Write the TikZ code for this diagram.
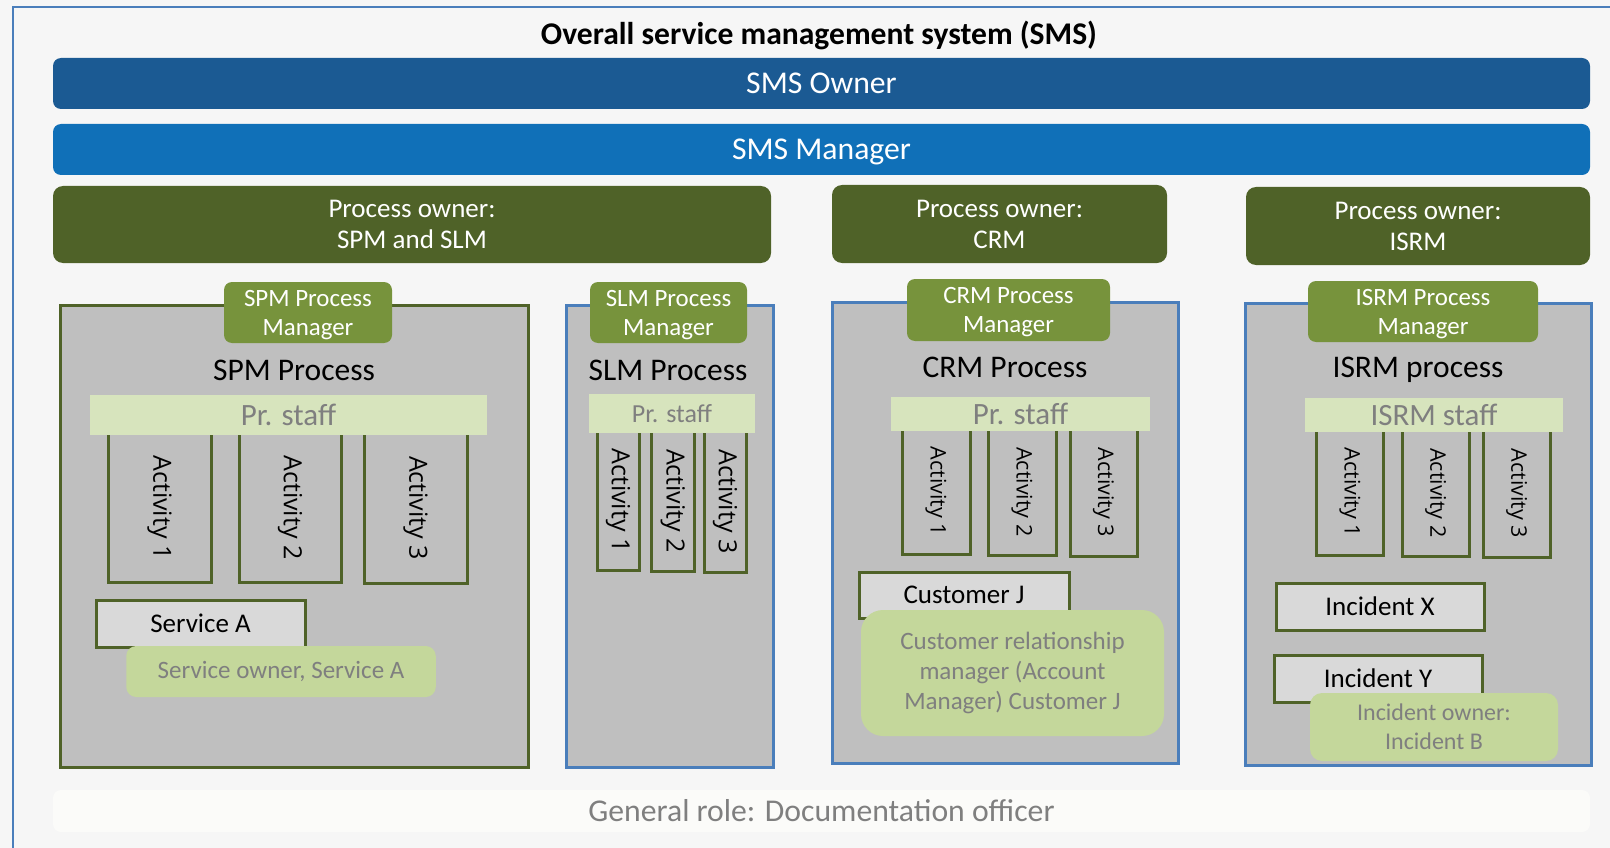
\documentclass[tikz,border=0pt]{standalone}
\usepackage{fontspec}
\setmainfont{Carlito}
\newfontfamily\actfont{Open Sans}
\definecolor{pagebg}{HTML}{F6F6F6}
\definecolor{frameblue}{HTML}{4A7EBB}
\definecolor{ownerblue}{HTML}{1B5A93}
\definecolor{managerblue}{HTML}{1070B8}
\definecolor{olivedark}{HTML}{4F6228}
\definecolor{olivelight}{HTML}{77933C}
\definecolor{procgray}{HTML}{BFBFBF}
\definecolor{staffgreen}{HTML}{D7E4BD}
\definecolor{rolegreen}{HTML}{C4D79B}
\definecolor{itemgray}{HTML}{D9D9D9}
\definecolor{textgray}{HTML}{7F7F7F}
\definecolor{generalwhite}{HTML}{FBFBF9}
\tikzset{smsbar/.style = {rounded corners=8pt, text=white, inner sep=0pt,
    text height=20pt, text depth=0pt, font=\fontsize{31.7}{37}\selectfont},
  ownerbox/.style = {fill=olivedark, rounded corners=10pt, text=white, align=center,
    inner sep=0pt, font=\fontsize{27}{31}\selectfont},
  procbox/.style = {fill=procgray, line width=3pt, inner sep=0pt},
  mgrtab/.style = {fill=olivelight, rounded corners=8pt, text=white, align=center,
    inner sep=0pt, text depth=-2pt, font=\fontsize{24.9}{29}\selectfont},
  proctitle/.style = {anchor=base, font=\fontsize{31.5}{36}\selectfont},
  staffbar/.style = {fill=staffgreen, text=textgray, inner sep=0pt,
    font=\fontsize{31}{36}\selectfont},
  actbox/.style = {rotate=-90, draw=olivedark, fill=procgray, line width=3pt,
    inner sep=0pt, font=\actfont\fontsize{25}{29}\selectfont},
  itembox/.style = {draw=olivedark, fill=itemgray, line width=3pt, inner sep=0pt,
    font=\fontsize{27}{32}\selectfont},
  rolebox/.style = {fill=rolegreen, text=textgray, rounded corners=10pt, align=center,
    inner sep=0pt, font=\fontsize{25}{29.7}\selectfont}}

\begin{document}
\begin{tikzpicture}[x=1pt,y=-1pt]
  \useasboundingbox (0,0) rectangle (1610,848);
  \fill[pagebg] (0,0) rectangle (1610,848);
  \draw[frameblue, line width=2.5pt] (13,848) -- (13,7) -- (1610,7);
  \node[anchor=base, font=\bfseries\fontsize{31.6}{37}\selectfont] (title) at (819,45)
    {Overall service management system (SMS)};
  % top bars
  \node[smsbar, fill=ownerblue, minimum width=1537pt, minimum height=51pt] (smsowner)
    at (821.5,83.5) {SMS Owner};
  \node[smsbar, fill=managerblue, minimum width=1537pt, minimum height=51pt] (smsmanager)
    at (821.5,149.5) {SMS Manager};
  % process owners
  \node[ownerbox, minimum width=718pt, minimum height=77pt] (spmslmowner)
    at (412,224.5) {Process owner:\\SPM and SLM};
  \node[ownerbox, minimum width=335pt, minimum height=78pt] (crmowner)
    at (999.5,224) {Process owner:\\CRM};
  \node[ownerbox, minimum width=344pt, minimum height=78pt] (isrmowner)
    at (1418,226) {Process owner:\\ISRM};
  % process boxes
  \node[procbox, draw=olivedark, minimum width=468pt, minimum height=462pt] (spmproc)
    at (294,536) {};
  \node[procbox, draw=frameblue, minimum width=207pt, minimum height=462pt] (slmproc)
    at (669.5,536) {};
  \node[procbox, draw=frameblue, minimum width=346pt, minimum height=461pt] (crmproc)
    at (1005,532.5) {};
  \node[procbox, draw=frameblue, minimum width=346pt, minimum height=462pt] (isrmproc)
    at (1418,534) {};
  % activities
  \node[actbox, minimum width=149pt, minimum height=103pt] (spmact1) at (159.5,507.5) {Activity 1};
  \node[actbox, minimum width=149pt, minimum height=102pt] (spmact2) at (290,507.5) {Activity 2};
  \node[actbox, minimum width=150pt, minimum height=103pt] (spmact3) at (415.5,508) {Activity 3};
  \node[actbox, minimum width=139pt, minimum height=42pt] (slmact1) at (618,500.5) {Activity 1};
  \node[actbox, minimum width=140pt, minimum height=42.5pt] (slmact2) at (672.75,501) {Activity 2};
  \node[actbox, minimum width=141pt, minimum height=42pt] (slmact3) at (725,501.5) {Activity 3};
  \node[actbox, minimum width=125pt, minimum height=68pt, font=\actfont\fontsize{21.5}{26}\selectfont]
    (crmact1) at (936,491.5) {Activity 1};
  \node[actbox, minimum width=126pt, minimum height=68pt, font=\actfont\fontsize{21.5}{26}\selectfont]
    (crmact2) at (1022,492) {Activity 2};
  \node[actbox, minimum width=127pt, minimum height=67pt, font=\actfont\fontsize{21.5}{26}\selectfont]
    (crmact3) at (1103.5,492.5) {Activity 3};
  \node[actbox, minimum width=125pt, minimum height=67.5pt, font=\actfont\fontsize{21.5}{26}\selectfont]
    (isrmact1) at (1350,492.5) {Activity 1};
  \node[actbox, minimum width=126pt, minimum height=67.5pt, font=\actfont\fontsize{21.5}{26}\selectfont]
    (isrmact2) at (1435.75,493) {Activity 2};
  \node[actbox, minimum width=127pt, minimum height=67.5pt, font=\actfont\fontsize{21.5}{26}\selectfont]
    (isrmact3) at (1516.75,493.5) {Activity 3};
  % staff bars
  \node[staffbar, minimum width=397pt, minimum height=40pt] (spmstaff) at (288.5,415) {Pr. staff};
  \node[staffbar, minimum width=166pt, minimum height=39pt, font=\fontsize{26}{31}\selectfont]
    (slmstaff) at (672,413.5) {Pr. staff};
  \node[staffbar, minimum width=259pt, minimum height=34pt] (crmstaff) at (1020.5,414) {Pr. staff};
  \node[staffbar, minimum width=258pt, minimum height=34pt] (isrmstaff) at (1434,415) {ISRM staff};
  % process managers
  \node[mgrtab, minimum width=168pt, minimum height=61pt] (spmmgr) at (308,312.5) {SPM Process\\Manager};
  \node[mgrtab, minimum width=157pt, minimum height=61pt] (slmmgr) at (668.5,312.5) {SLM Process\\Manager};
  \node[mgrtab, minimum width=203pt, minimum height=62pt] (crmmgr) at (1008.5,310) {CRM Process\\Manager};
  \node[mgrtab, minimum width=230pt, minimum height=61pt] (isrmmgr) at (1423,311.5) {ISRM Process\\Manager};
  \node[proctitle] (spmtitle) at (294,380) {SPM Process};
  \node[proctitle] (slmtitle) at (668,380) {SLM Process};
  \node[proctitle] (crmtitle) at (1005,377) {CRM Process};
  \node[proctitle] (isrmtitle) at (1418,377) {ISRM process};
  % items and roles
  \node[itembox, minimum width=209pt, minimum height=47pt] (servicea) at (200.5,623.5) {Service A};
  \node[rolebox, minimum width=309.5pt, minimum height=51pt] (serviceowner)
    at (281,671.5) {Service owner, Service A};
  \node[itembox, minimum width=210pt, minimum height=46pt] (customerj) at (964,595) {Customer J};
  \node[rolebox, rounded corners=22pt, minimum width=303pt, minimum height=126pt] (accountmgr)
    at (1012.5,673) {Customer relationship\\manager (Account\\Manager) Customer J};
  \node[itembox, minimum width=208pt, minimum height=47pt] (incidentx) at (1380,606.5) {Incident X};
  \node[itembox, minimum width=208pt, minimum height=47pt] (incidenty) at (1378,678.5) {Incident Y};
  \node[rolebox, rounded corners=12pt, minimum width=248pt, minimum height=68pt,
    font=\fontsize{24}{29}\selectfont] (incidentowner) at (1434,727) {Incident owner:\\Incident B};
  % general role
  \node[fill=generalwhite, text=textgray, rounded corners=8pt, inner sep=0pt,
    minimum width=1537pt, minimum height=42pt, font=\fontsize{31.7}{37}\selectfont]
    (docofficer) at (821.5,811) {General role: Documentation officer};
\end{tikzpicture}
\end{document}
